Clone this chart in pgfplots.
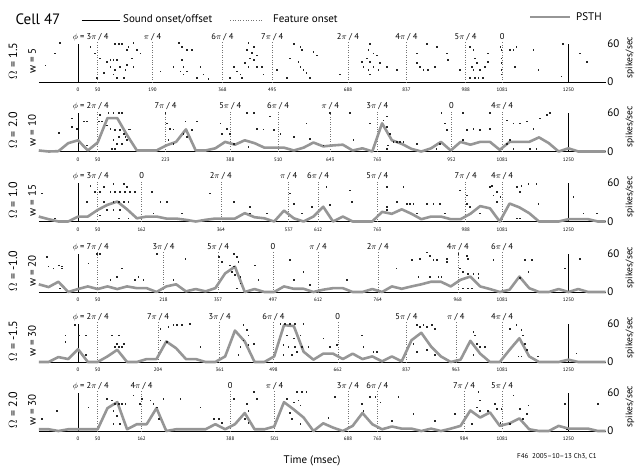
\documentclass[border=0pt]{standalone}
\usepackage{fontspec}
\setmainfont{PT Sans}
\usepackage{pgfplots}
\pgfplotsset{compat=1.18}

\definecolor{psthgray}{RGB}{150,150,150}

\pgfplotsset{
  rowax/.style={
    scale only axis, width=566.9pt, height=38.5pt,
    xmin=-100, xmax=1345, ymin=0, ymax=60,
    anchor=south west, clip=false,
    axis x line*=bottom, hide y axis,
    x axis line style={-, line width=0.6pt},
    major tick length=0pt, xtick style={draw=none},
    xticklabel style={font=\fontsize{5}{6}\selectfont, inner sep=0pt, yshift=-6pt},
    /pgf/number format/assume math mode=true,
    /pgf/number format/1000 sep={},
  },
  raster/.style={only marks, mark=square*, mark size=0.32pt, black!85},
  psth/.style={psthgray, line width=2.6pt, line join=round, no marks},
  onset/.style={ycomb, black, line width=0.6pt, no marks},
  feat/.style={ycomb, dotted, black!55, line width=0.45pt, no marks},
}
\tikzset{
  phase/.style={anchor=base, inner sep=0pt, font=\fontsize{8.5}{10}\selectfont},
  rlab/.style={anchor=west, inner sep=0pt, xshift=1.5pt, font=\fontsize{11}{13}\selectfont},
}

\begin{document}
\begin{tikzpicture}[x=1pt, y=-1pt]
\useasboundingbox (0,0) rectangle (642,474);

% legend and title
\node[font=\fontsize{15}{17}\selectfont] at (38,19) {Cell 47};
\draw[black, line width=0.8pt] (81.7,20) -- (120,20);
\node[anchor=west, inner sep=0pt, font=\fontsize{11}{13}\selectfont] at (123,19) {Sound onset/offset};
\draw[dotted, black!55, line width=0.6pt] (230,20) -- (263,20);
\node[anchor=west, inner sep=0pt, font=\fontsize{11}{13}\selectfont] at (273,19) {Feature onset};
\draw[psthgray, line width=2.6pt] (530,17) -- (570,17);
\node[anchor=west, inner sep=0pt, font=\fontsize{11}{13}\selectfont] at (576,17) {PSTH};

% ---------- row 1 ----------
\begin{axis}[rowax, at={(38.8pt,-82pt)},
  xtick={0,50,190,368,495,688,837,988,1081,1250}]
\addplot[feat] coordinates {(50,62) (190,62) (368,62) (495,62) (688,62) (837,62) (988,62) (1081,62)};
\addplot[onset] coordinates {(0,60) (1250,60)};
\addplot[raster] coordinates {
(-47,61) (-60,45) (-84,26) (31,55) (42,45) (56,37) (73,32) (82,35) (90,35) (98,35) (82,24) (94,19) (107,24) (90,12) (98,7) (116,7) (124,50) (94,60) (103,60) (111,60) (128,55) (141,61) (149,50) (158,45) (137,37) (141,24) (48,7) (65,14) (120,19) (124,27)
(256,61) (264,55) (277,50) (290,50) (264,35) (268,24) (260,17) (268,12) (277,17) (311,24) (243,24) (209,17) (302,7) (332,5) (319,12)
(396,24) (404,17) (413,12) (387,7) (434,61) (447,55) (430,50) (442,46) (455,42) (438,37) (425,30) (434,24) (447,35) (455,24) (417,7) (472,12) (468,24)
(549,60) (566,55) (570,50) (540,37) (561,32) (566,24) (574,19) (582,14) (591,7) (532,7) (599,47) (608,42) (506,19)
(667,12) (744,60) (740,50) (735,37) (744,32) (752,45) (761,42) (723,32) (727,24) (740,19) (752,24) (765,19) (769,30) (786,24) (812,19) (744,12)
(863,45) (863,30) (871,24) (880,19) (892,19) (888,60) (914,55) (939,45) (943,35) (909,24) (973,19)
(999,55) (1007,50) (1011,37) (1016,30) (1003,24) (1007,19) (1024,19) (1037,24) (1045,45) (1045,32) (999,7) (1011,7) (1020,7) (1032,7)
(1076,55) (1079,50) (1079,37) (1079,30) (1079,19) (1079,12) (1101,50) (1109,50) (1117,55) (1160,50) (1113,24) (1173,19) (1236,60) (1232,9) (1279,45) (1296,32)};
\node[phase] at (axis cs:50,66.5) {\llap{$\phi$ = }3$\pi$ / 4};
\node[phase] at (axis cs:190,66.5) {$\pi$ / 4};
\node[phase] at (axis cs:368,66.5) {6$\pi$ / 4};
\node[phase] at (axis cs:495,66.5) {7$\pi$ / 4};
\node[phase] at (axis cs:688,66.5) {2$\pi$ / 4};
\node[phase] at (axis cs:837,66.5) {4$\pi$ / 4};
\node[phase] at (axis cs:988,66.5) {5$\pi$ / 4};
\node[phase] at (axis cs:1081,66.5) {0};
\node[rlab] at (axis cs:1345,60) {60};
\node[rlab] at (axis cs:1345,0) {0};
\end{axis}

% ---------- row 2 ----------
\begin{axis}[rowax, at={(38.8pt,-151.5pt)},
  xtick={0,50,223,388,510,643,763,952,1081,1250}]
\addplot[feat] coordinates {(50,62) (223,62) (388,62) (510,62) (643,62) (763,62) (952,62) (1081,62)};
\addplot[onset] coordinates {(0,60) (1250,60)};
\addplot[raster] coordinates {
(-16,52) (-16,39) (14,47) (22,47) (-3,36) (-50,29) (56,57) (52,47) (60,47) (77,60) (90,60) (103,60) (111,60) (73,41) (82,36) (94,34) (107,34) (116,28) (120,23) (124,18) (128,35) (132,35) (90,18) (98,12) (86,4) (94,4) (103,23) (111,12) (22,10)
(226,44) (234,36) (243,35) (222,60) (273,47) (268,28) (277,23) (290,34) (302,47) (230,18) (243,12) (362,44) (366,28) (379,36) (387,28) (396,12) (430,60) (447,60) (434,7) (455,36) (472,35) (489,55) (498,34) (515,28) (549,23) (582,44) (591,20)
(642,60) (693,60) (744,44) (786,55) (778,49) (786,39) (795,28) (803,15) (812,15) (820,15) (829,15) (790,10) (786,4) (701,18) (625,10) (863,12) (922,12) (926,60) (935,44) (939,34)
(981,60) (990,34) (1007,36) (1024,34) (1050,60) (1050,36) (1093,49) (1109,44) (1126,44) (1143,47) (1160,36) (1177,52) (1194,57) (1202,60) (1151,4) (1168,4) (1109,4) (1093,12) (1101,18) (981,18) (913,4)};
\addplot[psth] coordinates {
(-100,1.6) (-75,0) (-50,0.5) (-25,13) (0,17.5) (25,1.6) (50,14) (75,52) (100,52) (125,25.5) (150,1.6) (175,1.6) (200,1.6) (225,9.5) (250,15) (275,34.5) (300,1.6) (325,1.6) (350,5) (375,15) (400,10.6) (425,17.5) (450,13) (475,6) (500,6) (525,6) (550,1.6) (575,6) (600,14) (625,8) (650,9.5) (675,10.6) (700,1.6) (725,5) (750,0) (775,44) (800,17.5) (825,12) (850,4) (875,0) (900,5) (925,15) (950,1.6) (975,15) (1000,10.6) (1025,15) (1050,15) (1075,2.6) (1100,15) (1125,15) (1150,15) (1175,22) (1200,13) (1225,0) (1250,5) (1275,0) (1300,0) (1325,0) (1345,0)};
\node[phase] at (axis cs:50,66.5) {\llap{$\phi$ = }2$\pi$ / 4};
\node[phase] at (axis cs:223,66.5) {7$\pi$ / 4};
\node[phase] at (axis cs:388,66.5) {5$\pi$ / 4};
\node[phase] at (axis cs:510,66.5) {6$\pi$ / 4};
\node[phase] at (axis cs:643,66.5) {$\pi$ / 4};
\node[phase] at (axis cs:763,66.5) {3$\pi$ / 4};
\node[phase] at (axis cs:952,66.5) {0};
\node[phase] at (axis cs:1081,66.5) {4$\pi$ / 4};
\node[rlab] at (axis cs:1345,60) {60};
\node[rlab] at (axis cs:1345,0) {0};
\end{axis}

% ---------- row 3 ----------
\begin{axis}[rowax, at={(38.8pt,-221.5pt)},
  xtick={0,50,162,364,537,612,763,988,1081,1250}]
\addplot[feat] coordinates {(50,62) (162,62) (364,62) (537,62) (612,62) (763,62) (988,62) (1081,62)};
\addplot[onset] coordinates {(0,60) (1250,60)};
\addplot[raster] coordinates {
(-93,44) (-59,5) (22,31) (31,56) (43,46) (56,46) (65,54) (82,46) (94,46) (107,46) (119,46) (132,46) (145,46) (90,59) (116,59) (124,54) (65,31) (90,31) (103,31) (116,31) (128,31) (73,18) (90,18) (107,18) (56,10) (103,5) (128,5)
(188,46) (192,13) (209,31) (226,31) (264,13) (336,44) (396,31) (438,23) (438,13) (481,13) (540,44) (549,28) (570,13) (595,23)
(633,54) (642,26) (693,49) (697,31) (786,54) (786,23) (786,18) (812,31) (829,54) (837,28) (846,28) (854,28) (863,13) (888,28) (905,28) (922,28) (935,13)
(973,49) (990,41) (990,28) (999,23) (1024,13) (1049,54) (1054,56) (1058,41) (1067,31) (1067,46) (1076,39) (1118,54) (1126,46) (1130,56) (1147,59) (1168,59) (1173,28) (1118,5) (1126,5) (1262,39) (1288,13) (1322,13)};
\addplot[psth] coordinates {
(-100,7.7) (-75,3.6) (-50,0) (-25,0) (0,7.7) (25,7.7) (50,18) (75,26) (100,31) (125,19) (150,5) (175,7.7) (200,7.7) (225,4.6) (250,4.6) (275,2.6) (300,0) (325,2.6) (350,4.6) (375,4.6) (400,4.6) (425,13) (450,6.7) (475,5) (500,0) (525,17) (550,5) (575,0) (600,7.7) (625,23) (650,0) (675,7.7) (700,0) (725,0) (750,0) (775,15) (800,12) (825,19) (850,12) (875,3.6) (900,7.7) (925,7.7) (950,3.6) (975,3.6) (1000,12) (1025,24) (1050,20.5) (1075,0) (1100,28) (1125,22) (1150,13) (1175,0) (1200,0) (1225,0) (1250,3.6) (1275,3.6) (1300,3.6) (1325,0) (1345,0)};
\node[phase] at (axis cs:50,66.5) {\llap{$\phi$ = }3$\pi$ / 4};
\node[phase] at (axis cs:162,66.5) {0};
\node[phase] at (axis cs:364,66.5) {2$\pi$ / 4};
\node[phase] at (axis cs:537,66.5) {$\pi$ / 4};
\node[phase] at (axis cs:612,66.5) {6$\pi$ / 4};
\node[phase] at (axis cs:763,66.5) {5$\pi$ / 4};
\node[phase] at (axis cs:988,66.5) {7$\pi$ / 4};
\node[phase] at (axis cs:1081,66.5) {4$\pi$ / 4};
\node[rlab] at (axis cs:1345,60) {60};
\node[rlab] at (axis cs:1345,0) {0};
\end{axis}

% ---------- row 4 ----------
\begin{axis}[rowax, at={(38.8pt,-292pt)},
  xtick={0,50,218,357,497,612,764,968,1081,1250}]
\addplot[feat] coordinates {(50,62) (218,62) (357,62) (497,62) (612,62) (764,62) (968,62) (1081,62)};
\addplot[onset] coordinates {(0,60) (1250,60)};
\addplot[raster] coordinates {
(-80,55) (-76,40) (-63,37) (-50,42) (-42,40) (-42,37) (-46,6) (26,45) (48,60) (56,60) (82,19) (99,24) (111,37) (145,19) (153,24) (166,19) (200,60) (243,19) (273,52)
(358,55) (366,47) (396,60) (404,55) (408,47) (387,42) (396,40) (392,32) (400,27) (413,24) (413,14) (404,6) (451,42) (459,19) (540,50) (549,19) (574,32) (591,11)
(684,19) (811,37) (850,50) (871,52) (867,24) (888,62) (897,57) (905,50) (914,50) (897,24) (918,24) (939,52) (939,47) (926,24)
(969,60) (973,37) (990,57) (994,52) (981,32) (994,29) (1007,29) (1020,29) (981,6) (994,6) (1003,6) (1020,22) (1058,50) (1139,50) (1156,50) (1147,32) (1126,22) (1240,37) (1279,52)};
\addplot[psth] coordinates {
(-100,12) (-75,7.7) (-50,16) (-25,0) (0,4.6) (25,8.7) (50,4.6) (75,8.7) (100,4.6) (125,8.7) (150,6) (175,6) (200,0) (225,8.7) (250,12) (275,1) (300,4.6) (325,1) (350,6) (375,29) (400,39.5) (425,0) (450,4.6) (475,0) (500,0) (525,8.7) (550,5) (575,5) (600,0) (625,3.6) (650,6) (675,6) (700,0) (725,0) (750,4.6) (775,0) (800,8.7) (825,5) (850,8.7) (875,12) (900,16) (925,16) (950,8.7) (975,19) (1000,24) (1025,8.7) (1050,4.6) (1075,0) (1100,3.6) (1125,24) (1150,6) (1175,0) (1200,0) (1225,4.6) (1250,0) (1275,4.6) (1300,0) (1325,0) (1345,0)};
\node[phase] at (axis cs:50,66.5) {\llap{$\phi$ = }7$\pi$ / 4};
\node[phase] at (axis cs:218,66.5) {3$\pi$ / 4};
\node[phase] at (axis cs:357,66.5) {5$\pi$ / 4};
\node[phase] at (axis cs:497,66.5) {0};
\node[phase] at (axis cs:612,66.5) {$\pi$ / 4};
\node[phase] at (axis cs:764,66.5) {2$\pi$ / 4};
\node[phase] at (axis cs:968,66.5) {4$\pi$ / 4};
\node[phase] at (axis cs:1081,66.5) {6$\pi$ / 4};
\node[rlab] at (axis cs:1345,60) {60};
\node[rlab] at (axis cs:1345,0) {0};
\end{axis}

% ---------- row 5 ----------
\begin{axis}[rowax, at={(38.8pt,-362pt)},
  xtick={0,50,204,361,498,662,837,963,1081,1250}]
\addplot[feat] coordinates {(50,62) (204,62) (361,62) (498,62) (662,62) (837,62) (963,62) (1081,62)};
\addplot[onset] coordinates {(0,60) (1250,60)};
\addplot[raster] coordinates {
(-33,42) (-33,32) (-8,58) (1,42) (19,42) (19,11) (86,42) (103,42) (94,24) (99,29) (116,29) (103,24) (111,24)
(230,55) (243,58) (251,58) (264,58) (285,60) (209,52) (209,34) (226,32) (311,24) (421,58) (430,50) (434,42) (421,34) (434,27) (413,24) (408,11) (447,29)
(515,60) (527,60) (540,60) (552,60) (574,60) (532,42) (549,37) (566,42) (523,27) (536,24) (552,24) (570,24) (587,24) (523,11) (544,11) (557,16)
(625,37) (659,27) (642,24) (723,42) (727,24) (752,16) (761,16) (854,29) (863,58) (871,55) (880,58) (888,55) (901,58) (909,52) (863,16) (888,19) (909,11)
(1007,47) (1011,42) (1016,29) (1024,24) (1037,24) (1007,11) (1101,52) (1117,58) (1130,50) (1134,42) (1139,29) (1143,19) (1122,9) (1130,9) (1270,14) (1172,9)};
\addplot[psth] coordinates {
(-100,0) (-75,0) (-50,7.7) (-25,4.6) (0,20) (25,0) (50,0) (75,8.7) (100,19) (125,0) (150,0) (175,4.6) (200,4.6) (225,32) (250,21.5) (275,4.6) (300,4.6) (325,0) (350,0) (375,8.7) (400,49) (425,32) (450,0) (475,0) (500,8.7) (525,57.5) (550,56) (575,16) (600,3.6) (625,13) (650,13) (675,4.6) (700,13) (725,4.6) (750,8.7) (775,1) (800,8.7) (825,1) (850,34) (875,45.5) (900,24) (925,8.7) (950,0) (975,3.6) (1000,33) (1025,13) (1050,0) (1075,0) (1100,19) (1125,37) (1150,8.7) (1175,0) (1200,0) (1225,0) (1250,3.6) (1275,0) (1300,0) (1325,0) (1345,0)};
\node[phase] at (axis cs:50,66.5) {\llap{$\phi$ = }2$\pi$ / 4};
\node[phase] at (axis cs:204,66.5) {7$\pi$ / 4};
\node[phase] at (axis cs:361,66.5) {3$\pi$ / 4};
\node[phase] at (axis cs:498,66.5) {6$\pi$ / 4};
\node[phase] at (axis cs:662,66.5) {0};
\node[phase] at (axis cs:837,66.5) {5$\pi$ / 4};
\node[phase] at (axis cs:963,66.5) {$\pi$ / 4};
\node[phase] at (axis cs:1081,66.5) {4$\pi$ / 4};
\node[rlab] at (axis cs:1345,60) {60};
\node[rlab] at (axis cs:1345,0) {0};
\end{axis}

% ---------- row 6 ----------
\begin{axis}[rowax, at={(38.8pt,-431pt)},
  xtick={0,50,162,388,501,688,763,984,1081,1250}]
\addplot[feat] coordinates {(50,62) (162,62) (388,62) (501,62) (688,62) (763,62) (984,62) (1081,62)};
\addplot[onset] coordinates {(0,60) (1250,60)};
\addplot[raster] coordinates {
(-93,19) (-54,32) (26,37) (73,50) (86,48) (94,43) (103,43) (111,43) (120,43) (90,32) (99,24) (90,11) (107,11) (141,56) (162,50) (158,43) (184,48) (192,43) (200,37) (217,50) (205,19) (260,50) (311,37)
(345,19) (358,19) (366,13) (396,50) (430,43) (434,32) (447,61) (455,50) (425,19) (434,13) (532,50) (557,61) (570,61) (582,61) (549,45) (561,48) (566,40) (544,19) (566,11) (540,29)
(655,53) (638,21) (723,43) (727,32) (744,53) (757,53) (770,45) (816,53) (799,16) (854,27) (909,16) (960,27)
(1020,61) (1024,48) (1016,37) (1024,32) (1003,11) (1045,32) (1062,43) (1067,35) (1079,35) (1109,56) (1126,35) (1147,40) (1143,27) (1134,19) (1076,13) (1100,11) (1240,43) (1245,3) (1325,43)};
\addplot[psth] coordinates {
(-100,2.7) (-75,2.7) (-50,0) (-25,2.7) (0,2.7) (25,2.7) (50,2.7) (75,35.6) (100,45) (125,2.7) (150,10.6) (175,10.6) (200,35.6) (225,0) (250,2.7) (275,2.7) (300,2.7) (325,2.7) (350,10.6) (375,2.7) (400,10.6) (425,28) (450,2.7) (475,2.7) (500,7) (525,45) (550,33.5) (575,21) (600,0) (625,12) (650,5.3) (675,0) (700,8) (725,28) (750,10.6) (775,2.7) (800,7) (825,3.7) (850,3.7) (875,0) (900,3.7) (925,0) (950,3.7) (975,8) (1000,32) (1025,21) (1050,29) (1075,8) (1100,12) (1125,19.6) (1150,2.7) (1175,0) (1200,0) (1225,8) (1250,3.7) (1275,3.7) (1300,3.7) (1325,0) (1345,0)};
\node[phase] at (axis cs:50,66.5) {\llap{$\phi$ = }2$\pi$ / 4};
\node[phase] at (axis cs:162,66.5) {4$\pi$ / 4};
\node[phase] at (axis cs:388,66.5) {0};
\node[phase] at (axis cs:501,66.5) {$\pi$ / 4};
\node[phase] at (axis cs:688,66.5) {3$\pi$ / 4};
\node[phase] at (axis cs:763,66.5) {6$\pi$ / 4};
\node[phase] at (axis cs:984,66.5) {7$\pi$ / 4};
\node[phase] at (axis cs:1081,66.5) {5$\pi$ / 4};
\node[rlab] at (axis cs:1345,60) {60};
\node[rlab] at (axis cs:1345,0) {0};
\end{axis}

% row labels (left) and units (right)
\foreach \b/\om/\w in {82/1.5/5, 151.5/2.0/10, 221.5/1.0/15, 292/-1.0/20, 362/-1.5/30, 431/2.0/30}{
  \node[rotate=90, inner sep=0pt, font=\fontsize{12}{14}\selectfont] at (13,\b-21) {$\Omega$ = \om};
  \node[rotate=90, inner sep=0pt, font=\fontsize{11}{13}\selectfont] at (32,\b-21) {w = \w};
  \node[rotate=90, inner sep=0pt, font=\fontsize{9.5}{11}\selectfont] at (630,\b-24.5) {spikes/sec};
}

\node[font=\fontsize{11}{13}\selectfont] at (312,461) {Time (msec)};
\node[anchor=west, inner sep=0pt, font=\fontsize{7}{8}\selectfont] at (517,457) {F46\ \ 2005--10--13 Ch3, C1};
\end{tikzpicture}
\end{document}
